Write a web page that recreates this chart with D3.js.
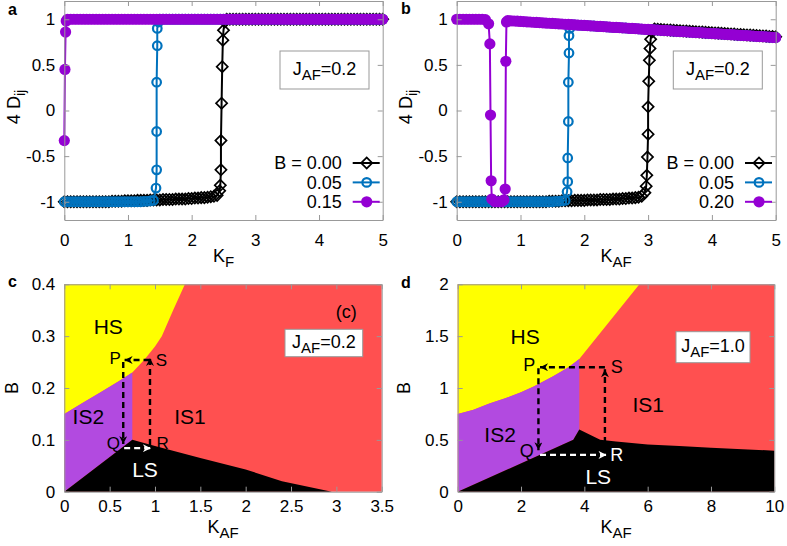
<!DOCTYPE html>
<html>
<head>
<meta charset="utf-8">
<script src="https://cdn.jsdelivr.net/npm/d3@7"></script>
<style>
  body { margin: 0; background: #fff; }
</style>
</head>
<body>
<div id="chart"></div>
<script>
// ---- data ----
// panel a : 4 D_ij vs K_F, J_AF = 0.2
const aB000 = [[0,-1],[0.05,-1],[0.1,-1],[0.15,-1],[0.2,-1],[0.25,-1],[0.3,-1],[0.35,-1],[0.4,-1],[0.45,-1],[0.5,-1],
  [0.55,-1],[0.6,-1],[0.65,-1],[0.7,-1],[0.75,-0.995],[0.8,-0.995],[0.85,-0.995],[0.9,-0.995],[0.95,-0.99],[1,-0.99],
  [1.05,-0.99],[1.1,-0.99],[1.15,-0.985],[1.2,-0.985],[1.25,-0.985],[1.3,-0.985],[1.35,-0.98],[1.4,-0.98],[1.45,-0.98],
  [1.5,-0.98],[1.55,-0.975],[1.6,-0.975],[1.65,-0.975],[1.7,-0.975],[1.75,-0.97],[1.8,-0.97],[1.85,-0.97],[1.9,-0.97],
  [1.95,-0.965],[2,-0.965],[2.05,-0.96],[2.1,-0.96],[2.15,-0.955],[2.2,-0.955],[2.25,-0.95],[2.3,-0.945],[2.35,-0.94],
  [2.4,-0.93],[2.44,-0.88],[2.45,-0.82],[2.46,-0.65],[2.46,-0.33],[2.47,0.08],[2.48,0.48],[2.49,0.77],[2.5,0.88],
  [2.52,0.97],[2.55,1],[2.6,1],[2.65,1],[2.7,1],[2.75,1],[2.8,1],[2.85,1],[2.9,1],[2.95,1],[3,1],[3.05,1],[3.1,1],
  [3.15,1],[3.2,1],[3.25,1],[3.3,1],[3.35,1],[3.4,1],[3.45,1],[3.5,1],[3.55,1],[3.6,1],[3.65,1],[3.7,1],[3.75,1],[3.8,1],
  [3.85,1],[3.9,1],[3.95,1],[4,1],[4.05,1],[4.1,1],[4.15,1],[4.2,1],[4.25,1],[4.3,1],[4.35,1],[4.4,1],[4.45,1],[4.5,1],
  [4.55,1],[4.6,1],[4.65,1],[4.7,1],[4.75,1],[4.8,1],[4.85,1],[4.9,1],[4.95,1],[5,1]];
const aB005 = [[0,-1],[0.05,-1],[0.1,-1],[0.15,-1],[0.2,-1],[0.25,-1],[0.3,-1],[0.35,-1],[0.4,-1],[0.45,-1],[0.5,-1],
  [0.55,-1],[0.6,-1],[0.65,-1],[0.7,-1],[0.75,-1],[0.8,-1],[0.85,-1],[0.9,-1],[0.95,-1],[1,-1],[1.05,-1],[1.1,-1],
  [1.15,-1],[1.2,-1],[1.25,-0.995],[1.3,-0.995],[1.35,-0.99],[1.4,-0.985],[1.44,-0.85],[1.45,-0.65],[1.45,-0.23],
  [1.45,0.31],[1.46,0.71],[1.46,0.9],[1.48,0.97],[1.5,1],[1.55,1],[1.6,1],[1.65,1],[1.7,1],[1.75,1],[1.8,1],[1.85,1],
  [1.9,1],[1.95,1],[2,1],[2.05,1],[2.1,1],[2.15,1],[2.2,1],[2.25,1],[2.3,1],[2.35,1],[2.4,1],[2.45,1],[2.5,1],[2.55,1],
  [2.6,1],[2.65,1],[2.7,1],[2.75,1],[2.8,1],[2.85,1],[2.9,1],[2.95,1],[3,1],[3.05,1],[3.1,1],[3.15,1],[3.2,1],[3.25,1],
  [3.3,1],[3.35,1],[3.4,1],[3.45,1],[3.5,1],[3.55,1],[3.6,1],[3.65,1],[3.7,1],[3.75,1],[3.8,1],[3.85,1],[3.9,1],[3.95,1],
  [4,1],[4.05,1],[4.1,1],[4.15,1],[4.2,1],[4.25,1],[4.3,1],[4.35,1],[4.4,1],[4.45,1],[4.5,1],[4.55,1],[4.6,1],[4.65,1],
  [4.7,1],[4.75,1],[4.8,1],[4.85,1],[4.9,1],[4.95,1],[5,1]];
const aB015 = [[0,-0.33],[0.01,0.45],[0.02,0.86],[0.03,0.98],[0.05,1],[0.1,1],[0.15,1],[0.2,1],[0.25,1],[0.3,1],
  [0.35,1],[0.4,1],[0.45,1],[0.5,1],[0.55,1],[0.6,1],[0.65,1],[0.7,1],[0.75,1],[0.8,1],[0.85,1],[0.9,1],[0.95,1],[1,1],
  [1.05,1],[1.1,1],[1.15,1],[1.2,1],[1.25,1],[1.3,1],[1.35,1],[1.4,1],[1.45,1],[1.5,1],[1.55,1],[1.6,1],[1.65,1],[1.7,1],
  [1.75,1],[1.8,1],[1.85,1],[1.9,1],[1.95,1],[2,1],[2.05,1],[2.1,1],[2.15,1],[2.2,1],[2.25,1],[2.3,1],[2.35,1],[2.4,1],
  [2.45,1],[2.5,1],[2.55,1],[2.6,1],[2.65,1],[2.7,1],[2.75,1],[2.8,1],[2.85,1],[2.9,1],[2.95,1],[3,1],[3.05,1],[3.1,1],
  [3.15,1],[3.2,1],[3.25,1],[3.3,1],[3.35,1],[3.4,1],[3.45,1],[3.5,1],[3.55,1],[3.6,1],[3.65,1],[3.7,1],[3.75,1],[3.8,1],
  [3.85,1],[3.9,1],[3.95,1],[4,1],[4.05,1],[4.1,1],[4.15,1],[4.2,1],[4.25,1],[4.3,1],[4.35,1],[4.4,1],[4.45,1],[4.5,1],
  [4.55,1],[4.6,1],[4.65,1],[4.7,1],[4.75,1],[4.8,1],[4.85,1],[4.9,1],[4.95,1],[5,1]];

// panel b : 4 D_ij vs K_AF, J_AF = 0.2
const bB000 = [[0,-1],[0.05,-1],[0.1,-1],[0.15,-1],[0.2,-1],[0.25,-1],[0.3,-1],[0.35,-1],[0.4,-1],[0.45,-1],[0.5,-1],
  [0.55,-1],[0.6,-1],[0.65,-1],[0.7,-1],[0.75,-1],[0.8,-1],[0.85,-1],[0.9,-1],[0.95,-1],[1,-1],[1.05,-1],[1.1,-1],
  [1.15,-1],[1.2,-1],[1.25,-1],[1.3,-1],[1.35,-1],[1.4,-1],[1.45,-0.995],[1.5,-0.995],[1.55,-0.995],[1.6,-0.995],
  [1.65,-0.99],[1.7,-0.99],[1.75,-0.99],[1.8,-0.99],[1.85,-0.985],[1.9,-0.985],[1.95,-0.985],[2,-0.985],[2.05,-0.98],
  [2.1,-0.98],[2.15,-0.98],[2.2,-0.98],[2.25,-0.975],[2.3,-0.975],[2.35,-0.975],[2.4,-0.975],[2.45,-0.97],[2.5,-0.97],
  [2.55,-0.97],[2.6,-0.965],[2.65,-0.965],[2.7,-0.96],[2.75,-0.96],[2.8,-0.955],[2.85,-0.95],[2.9,-0.94],[2.95,-0.9],
  [2.97,-0.83],[2.98,-0.71],[2.99,-0.51],[3,-0.26],[3,0.04],[3.01,0.32],[3.02,0.55],[3.03,0.68],[3.04,0.78],[3.06,0.86],
  [3.1,0.892],[3.15,0.89],[3.2,0.887],[3.25,0.885],[3.3,0.883],[3.35,0.881],[3.4,0.878],[3.45,0.876],[3.5,0.874],
  [3.55,0.872],[3.6,0.87],[3.65,0.868],[3.7,0.865],[3.75,0.863],[3.8,0.861],[3.85,0.859],[3.9,0.856],[3.95,0.854],
  [4,0.852],[4.05,0.85],[4.1,0.848],[4.15,0.846],[4.2,0.843],[4.25,0.841],[4.3,0.839],[4.35,0.837],[4.4,0.834],
  [4.45,0.832],[4.5,0.83],[4.55,0.828],[4.6,0.826],[4.65,0.824],[4.7,0.821],[4.75,0.819],[4.8,0.817],[4.85,0.815],
  [4.9,0.812],[4.95,0.81],[5,0.808]];
const bB005 = [[0,-1],[0.05,-1],[0.1,-1],[0.15,-1],[0.2,-1],[0.25,-1],[0.3,-1],[0.35,-1],[0.4,-1],[0.45,-1],[0.5,-1],
  [0.55,-1],[0.6,-1],[0.65,-1],[0.7,-1],[0.75,-1],[0.8,-1],[0.85,-1],[0.9,-1],[0.95,-1],[1,-1],[1.05,-1],[1.1,-1],
  [1.15,-1],[1.2,-1],[1.25,-1],[1.3,-1],[1.35,-1],[1.4,-1],[1.45,-1],[1.5,-1],[1.55,-0.995],[1.6,-0.995],[1.65,-0.99],
  [1.7,-0.985],[1.73,-0.89],[1.74,-0.78],[1.74,-0.52],[1.75,-0.12],[1.75,0.31],[1.76,0.63],[1.76,0.82],[1.77,0.9],
  [1.8,0.941],[1.85,0.939],[1.9,0.936],[1.95,0.934],[2,0.932],[2.05,0.93],[2.1,0.928],[2.15,0.926],[2.2,0.923],
  [2.25,0.921],[2.3,0.919],[2.35,0.917],[2.4,0.914],[2.45,0.912],[2.5,0.91],[2.55,0.908],[2.6,0.906],[2.65,0.904],
  [2.7,0.901],[2.75,0.899],[2.8,0.897],[2.85,0.895],[2.9,0.892],[2.95,0.89],[3,0.888],[3.05,0.886],[3.1,0.884],
  [3.15,0.882],[3.2,0.879],[3.25,0.877],[3.3,0.875],[3.35,0.873],[3.4,0.87],[3.45,0.868],[3.5,0.866],[3.55,0.864],
  [3.6,0.862],[3.65,0.86],[3.7,0.857],[3.75,0.855],[3.8,0.853],[3.85,0.851],[3.9,0.848],[3.95,0.846],[4,0.844],
  [4.05,0.842],[4.1,0.84],[4.15,0.838],[4.2,0.835],[4.25,0.833],[4.3,0.831],[4.35,0.829],[4.4,0.826],[4.45,0.824],
  [4.5,0.822],[4.55,0.82],[4.6,0.818],[4.65,0.816],[4.7,0.813],[4.75,0.811],[4.8,0.809],[4.85,0.807],[4.9,0.804],
  [4.95,0.802],[5,0.8]];
const bB020 = [[0,1],[0.05,1],[0.1,1],[0.15,1],[0.2,1],[0.25,1],[0.3,1],[0.35,1],[0.4,1],[0.45,0.995],[0.5,0.95],
  [0.52,0.73],[0.53,-0.05],[0.54,-0.77],[0.55,-0.97],[0.6,-1],[0.65,-1],[0.7,-1],[0.74,-0.98],[0.76,-0.86],[0.77,0.54],
  [0.78,0.97],[0.8,0.985],[0.85,0.983],[0.9,0.981],[0.95,0.979],[1,0.976],[1.05,0.974],[1.1,0.972],[1.15,0.97],
  [1.2,0.967],[1.25,0.965],[1.3,0.963],[1.35,0.961],[1.4,0.958],[1.45,0.956],[1.5,0.954],[1.55,0.952],[1.6,0.95],
  [1.65,0.948],[1.7,0.945],[1.75,0.943],[1.8,0.941],[1.85,0.939],[1.9,0.936],[1.95,0.934],[2,0.932],[2.05,0.93],
  [2.1,0.928],[2.15,0.926],[2.2,0.923],[2.25,0.921],[2.3,0.919],[2.35,0.917],[2.4,0.914],[2.45,0.912],[2.5,0.91],
  [2.55,0.908],[2.6,0.906],[2.65,0.904],[2.7,0.901],[2.75,0.899],[2.8,0.897],[2.85,0.895],[2.9,0.892],[2.95,0.89],
  [3,0.888],[3.05,0.886],[3.1,0.884],[3.15,0.882],[3.2,0.879],[3.25,0.877],[3.3,0.875],[3.35,0.873],[3.4,0.87],
  [3.45,0.868],[3.5,0.866],[3.55,0.864],[3.6,0.862],[3.65,0.86],[3.7,0.857],[3.75,0.855],[3.8,0.853],[3.85,0.851],
  [3.9,0.848],[3.95,0.846],[4,0.844],[4.05,0.842],[4.1,0.84],[4.15,0.838],[4.2,0.835],[4.25,0.833],[4.3,0.831],
  [4.35,0.829],[4.4,0.826],[4.45,0.824],[4.5,0.822],[4.55,0.82],[4.6,0.818],[4.65,0.816],[4.7,0.813],[4.75,0.811],
  [4.8,0.809],[4.85,0.807],[4.9,0.804],[4.95,0.802],[5,0.8]];

const legendA = ["B = 0.00", "0.05", "0.15"];
const legendB = ["B = 0.00", "0.05", "0.20"];

// panel c : phase diagram B vs K_AF, J_AF = 0.2
const hsC  = [[0,0.4],[0,0.15],[0.2,0.171],[0.4,0.192],[0.6,0.213],[0.75,0.23],[0.88,0.254],[1.0,0.28],[1.075,0.3],[1.2,0.35],[1.33,0.4]];
const is2C = [[0,0.15],[0.2,0.171],[0.4,0.192],[0.6,0.213],[0.75,0.23],[0.75,0.1],[0,0]];
const lsC  = [[0,0],[0.75,0.1],[1.0,0.088],[1.5,0.065],[2.0,0.043],[2.4,0.02],[2.95,0]];
const arrowsC = [ // [x1,y1,x2,y2,colour]
  [0.94,0.254,0.665,0.254,"#000"], [0.65,0.25,0.65,0.092,"#000"],
  [0.66,0.084,0.955,0.084,"#fff"], [0.945,0.09,0.945,0.258,"#000"]];
const labelsC = [["HS",0.485,0.318,"#000",21],["IS2",0.265,0.145,"#000",21],["IS1",1.386,0.145,"#000",21],
  ["LS",0.89,0.042,"#fff",21],["P",0.56,0.258,"#000",17],["S",1.07,0.254,"#000",17],
  ["Q",0.54,0.094,"#000",17],["R",1.085,0.094,"#000",17],["(c)",3.11,0.347,"#000",18]];

// panel d : phase diagram B vs K_AF, J_AF = 1.0
const hsD  = [[0,2],[0,0.75],[0.5,0.79],[1,0.85],[1.5,0.9],[2,0.96],[2.4,1.015],[3,1.11],[3.5,1.2],[3.84,1.28],[5.74,2]];
const is2D = [[0,0.75],[0.5,0.79],[1,0.85],[1.5,0.9],[2,0.96],[2.4,1.015],[3,1.11],[3.5,1.2],[3.84,1.28],[3.84,0.6],[3.65,0.5],[0,0]];
const lsD  = [[0,0],[3.65,0.5],[3.84,0.6],[4.5,0.5],[5,0.485],[6,0.455],[7,0.44],[8,0.425],[9,0.41],[10,0.396],[10,0]];
const arrowsD = [
  [4.65,1.2,2.6,1.2,"#000"], [2.55,1.19,2.55,0.4,"#000"],
  [2.6,0.355,4.7,0.355,"#fff"], [4.65,0.47,4.65,1.18,"#000"]];
const labelsD = [["HS",2.13,1.495,"#000",21],["IS2",1.34,0.547,"#000",21],["IS1",6.02,0.836,"#000",21],
  ["LS",4.44,0.145,"#fff",21],["P",2.26,1.22,"#000",18],["S",5.02,1.205,"#000",18],
  ["Q",2.18,0.4,"#000",18],["R",5.02,0.354,"#fff",18]];

const ticks01 = [-1,-0.5,0,0.5,1];
const ticksK5 = [0,1,2,3,4,5];
const ticksKc = [0,0.5,1,1.5,2,2.5,3,3.5];
const ticksBc = [0,0.1,0.2,0.3,0.4];
const ticksKd = [0,2,4,6,8,10];
const ticksBd = [0,0.5,1,1.5,2];

// ---- drawing ----
const FONT = '"Liberation Sans", Arial, Helvetica, sans-serif';
const BLACK = "#000", BLUE = "#0072bd", PURPLE = "#9400d3";
const RED = "#ff5050", YELLOW = "#ffff00", VIOLET = "#b24ae0";

const svg = d3.select("#chart").append("svg")
  .attr("width", 787).attr("height", 546)
  .style("font-family", FONT);

const defs = svg.append("defs");
[["headK","#000"],["headW","#fff"]].forEach(([id,c]) => {
  defs.append("marker").attr("id", id)
    .attr("viewBox","0 0 10 10").attr("refX",10).attr("refY",5)
    .attr("markerWidth",9).attr("markerHeight",8).attr("markerUnits","userSpaceOnUse")
    .attr("orient","auto")
    .append("path").attr("d","M0,0L10,5L0,10L3,5Z").attr("fill",c);
});

const xa = d3.scaleLinear().domain([0,5]).range([64.3,382.7]);
const ya = d3.scaleLinear().domain([-1.2,1.2]).range([220,1]);
const xb = d3.scaleLinear().domain([0,5]).range([456.7,775.7]);
const yb = d3.scaleLinear().domain([-1.2,1.2]).range([220,1]);
const xc = d3.scaleLinear().domain([0,3.5]).range([64.3,381.7]);
const yc = d3.scaleLinear().domain([0,0.4]).range([491.7,284.3]);
const xd = d3.scaleLinear().domain([0,10]).range([457.7,774.3]);
const yd = d3.scaleLinear().domain([0,2]).range([491.7,284.3]);

function marker(g, px, py, shape, color) {
  if (shape === "diamond") {
    g.append("path").attr("d", d3.symbol(d3.symbolSquare, 62)())
      .attr("transform", `translate(${px},${py}) rotate(45)`)
      .attr("fill","none").attr("stroke",color).attr("stroke-width",1.7);
  } else if (shape === "circle") {
    g.append("circle").attr("cx",px).attr("cy",py).attr("r",4.3)
      .attr("fill","none").attr("stroke",color).attr("stroke-width",2.2);
  } else {
    g.append("circle").attr("cx",px).attr("cy",py).attr("r",5.6).attr("fill",color);
  }
}

function series(x, y, data, color, shape) {
  const g = svg.append("g");
  g.append("path").datum(data)
    .attr("d", d3.line().x(d => x(d[0])).y(d => y(d[1])))
    .attr("fill","none").attr("stroke",color).attr("stroke-width",2);
  data.forEach(d => marker(g, x(d[0]), y(d[1]), shape, color));
}

function legend(names, right, colors, shapes) {
  names.forEach((n, i) => {
    const yy = 163 + i * 19.4;
    svg.append("text").attr("x", right).attr("y", yy).attr("dy","0.35em")
      .attr("text-anchor","end").attr("font-size",18).text(n);
    svg.append("line").attr("x1", right + 11).attr("x2", right + 38)
      .attr("y1", yy).attr("y2", yy).attr("stroke", colors[i]).attr("stroke-width", 2);
    const g = svg.append("g");
    marker(g, right + 25, yy, shapes[i], colors[i]);
  });
}

function region(x, y, pts, color) {
  svg.append("path").datum(pts)
    .attr("d", d3.line().x(d => x(d[0])).y(d => y(d[1])).curve(d3.curveLinearClosed))
    .attr("fill", color);
}

function arrows(x, y, list) {
  list.forEach(a => {
    svg.append("line")
      .attr("x1", x(a[0])).attr("y1", y(a[1])).attr("x2", x(a[2])).attr("y2", y(a[3]))
      .attr("stroke", a[4]).attr("stroke-width", 2.4).attr("stroke-dasharray","6,4")
      .attr("marker-end", a[4] === "#fff" ? "url(#headW)" : "url(#headK)");
  });
}

function labels(x, y, list) {
  list.forEach(l => {
    svg.append("text").attr("x", x(l[1])).attr("y", y(l[2])).attr("dy","0.35em")
      .attr("text-anchor","middle").attr("font-size", l[4]).attr("fill", l[3]).text(l[0]);
  });
}

function frame(x, y, xt, yt, xpad) {
  const [l, r] = x.range(), [b, t] = y.range();
  const fmt = d => String(d);
  const g = svg.append("g");
  g.append("g").attr("transform", `translate(0,${b})`)
    .call(d3.axisBottom(x).tickValues(xt).tickFormat(fmt).tickSize(-5).tickSizeOuter(0).tickPadding(xpad));
  g.append("g").attr("transform", `translate(0,${t})`)
    .call(d3.axisTop(x).tickValues(xt).tickFormat("").tickSize(-5).tickSizeOuter(0));
  g.append("g").attr("transform", `translate(${l},0)`)
    .call(d3.axisLeft(y).tickValues(yt).tickFormat(fmt).tickSize(-5).tickSizeOuter(0).tickPadding(9));
  g.append("g").attr("transform", `translate(${r},0)`)
    .call(d3.axisRight(y).tickValues(yt).tickFormat("").tickSize(-5).tickSizeOuter(0));
  g.selectAll("g").attr("font-family", FONT).attr("font-size", 17);
  g.selectAll(".domain, .tick line").attr("stroke", "#999");
  g.selectAll(".tick text").attr("fill", "#000");
}

function box(x0, y0, w, h, val) {
  svg.append("rect").attr("x", x0).attr("y", y0).attr("width", w).attr("height", h)
    .attr("fill", "#fff").attr("stroke", "#999").attr("stroke-width", 1);
  const t = svg.append("text").attr("x", x0 + w / 2).attr("y", y0 + h / 2 + 5)
    .attr("text-anchor", "middle").attr("font-size", 18);
  t.append("tspan").text("J");
  t.append("tspan").attr("font-size", 15).attr("dy", 5).text("AF");
  t.append("tspan").attr("dy", -5).text("=" + val);
}

function xTitle(cx, baseline, main, sub) {
  const t = svg.append("text").attr("x", cx).attr("y", baseline)
    .attr("text-anchor", "middle").attr("font-size", 18);
  t.append("tspan").text(main);
  t.append("tspan").attr("font-size", 15).attr("dy", 5).text(sub);
}

function yTitle(cx, cy, main, sub) {
  const t = svg.append("text").attr("transform", `translate(${cx},${cy}) rotate(-90)`)
    .attr("text-anchor", "middle").attr("dy", "0.35em").attr("font-size", 18);
  t.append("tspan").text(main);
  if (sub) t.append("tspan").attr("font-size", 14).attr("dy", 5).text(sub);
}

function letter(px, py, s) {
  svg.append("text").attr("x", px).attr("y", py).attr("font-size", 16)
    .attr("font-weight", "bold").text(s);
}

// panel a
series(xa, ya, aB000, BLACK, "diamond");
series(xa, ya, aB005, BLUE, "circle");
series(xa, ya, aB015, PURPLE, "dot");
frame(xa, ya, ticksK5, ticks01, 14);
box(280, 51, 89, 38, "0.2");
legend(legendA, 341.7, [BLACK, BLUE, PURPLE], ["diamond","circle","dot"]);
xTitle(223.5, 262, "K", "F");
yTitle(14, 107, "4 D", "ij");
letter(8, 15, "a");

// panel b
series(xb, yb, bB000, BLACK, "diamond");
series(xb, yb, bB005, BLUE, "circle");
series(xb, yb, bB020, PURPLE, "dot");
frame(xb, yb, ticksK5, ticks01, 14);
box(673.3, 51, 89, 38, "0.2");
legend(legendB, 734, [BLACK, BLUE, PURPLE], ["diamond","circle","dot"]);
xTitle(616, 262, "K", "AF");
yTitle(406, 107, "4 D", "ij");
letter(401, 14, "b");

// panel c
svg.append("rect").attr("x", xc(0)).attr("y", yc(0.4))
  .attr("width", xc(3.5) - xc(0)).attr("height", yc(0) - yc(0.4)).attr("fill", RED);
region(xc, yc, hsC, YELLOW);
region(xc, yc, is2C, VIOLET);
region(xc, yc, lsC, BLACK);
arrows(xc, yc, arrowsC);
labels(xc, yc, labelsC);
frame(xc, yc, ticksKc, ticksBc, 8);
box(285, 329.3, 77.7, 27.4, "0.2");
xTitle(223, 533, "K", "AF");
yTitle(12, 388, "B");
letter(8, 287, "c");

// panel d
svg.append("rect").attr("x", xd(0)).attr("y", yd(2))
  .attr("width", xd(10) - xd(0)).attr("height", yd(0) - yd(2)).attr("fill", RED);
region(xd, yd, hsD, YELLOW);
region(xd, yd, is2D, VIOLET);
region(xd, yd, lsD, BLACK);
arrows(xd, yd, arrowsD);
labels(xd, yd, labelsD);
frame(xd, yd, ticksKd, ticksBd, 8);
box(676, 331.7, 74, 31, "1.0");
xTitle(616, 533, "K", "AF");
yTitle(404, 388, "B");
letter(401, 288, "d");
</script>
</body>
</html>
